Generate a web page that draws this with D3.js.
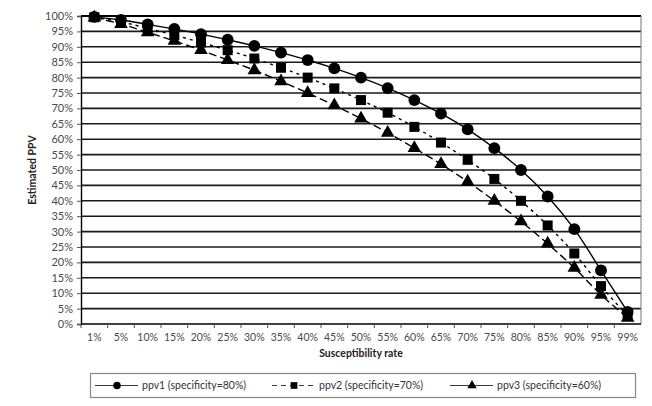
<!DOCTYPE html>
<html>
<head>
<meta charset="utf-8">
<script src="https://cdn.jsdelivr.net/npm/d3@7"></script>
<style>
  body { margin: 0; background: #fff; }
  text { font-family: Lato, "Open Sans", sans-serif; }
</style>
</head>
<body>
<svg id="chart"></svg>
<script>
// data
var categories = ["1%", "5%", "10%", "15%", "20%", "25%", "30%", "35%", "40%", "45%", "50%",
  "55%", "60%", "65%", "70%", "75%", "80%", "85%", "90%", "95%", "99%"]
var ppv1 = [99.7, 98.7, 97.3, 95.8, 94.1, 92.3, 90.3, 88.1, 85.7, 83.0, 80.0, 76.6, 72.7, 68.3, 63.2, 57.1, 50.0, 41.4, 30.8, 17.4, 3.9]
var ppv2 = [99.6, 98.1, 96.0, 93.8, 91.4, 88.9, 86.2, 83.2, 80.0, 76.5, 72.7, 68.6, 64.0, 58.9, 53.3, 47.1, 40.0, 32.0, 22.9, 12.3, 2.6]
var ppv3 = [99.5, 97.4, 94.7, 91.9, 88.9, 85.7, 82.4, 78.8, 75.0, 71.0, 66.7, 62.1, 57.1, 51.9, 46.2, 40.0, 33.3, 26.1, 18.2, 9.5, 2.0]
var yTicks = [0, 5, 10, 15, 20, 25, 30, 35, 40, 45, 50, 55, 60, 65, 70, 75, 80, 85, 90, 95, 100]
var seriesNames = ["ppv1 (specificity=80%)", "ppv2 (specificity=70%)", "ppv3 (specificity=60%)"]

var series = [
  {name: seriesNames[0], values: ppv1, symbol: d3.symbolCircle, size: 110, dash: null},
  {name: seriesNames[1], values: ppv2, symbol: d3.symbolSquare, size: 100, dash: "3,4"},
  {name: seriesNames[2], values: ppv3, symbol: d3.symbolTriangle, size: 80, dash: "8,4"}
]

// dimensions
var width = 652, height = 406
var plot = {left: 81, right: 641, top: 16, bottom: 324}

var svg = d3.select("#chart")
  .attr("width", width)
  .attr("height", height)

// scales
var x = d3.scaleBand()
  .domain(categories)
  .range([plot.left, plot.right])
  .padding(0)

var y = d3.scaleLinear()
  .domain([0, 100])
  .range([plot.bottom, plot.top])

// gridlines
svg.append("g")
  .selectAll("line")
  .data(yTicks.filter(function (d) { return d > 0; }))
  .enter()
  .append("line")
  .attr("x1", plot.left)
  .attr("x2", plot.right)
  .attr("y1", function (d) { return y(d); })
  .attr("y2", function (d) { return y(d); })
  .attr("stroke", function (d) { return d == 100 ? "#000" : "#1a1a1a"; })
  .attr("stroke-width", function (d) { return d == 100 ? 2.2 : 1.6; })

// right border
svg.append("line")
  .attr("x1", plot.right).attr("x2", plot.right)
  .attr("y1", plot.top).attr("y2", plot.bottom)
  .attr("stroke", "#777")
  .attr("stroke-width", 1)

// y axis
var yAxis = svg.append("g")
  .attr("transform", "translate(" + plot.left + ",0)")
  .call(d3.axisLeft(y)
    .tickValues(yTicks)
    .tickSize(4)
    .tickPadding(4)
    .tickFormat(function (d) { return d + "%"; }))
yAxis.select(".domain").attr("stroke", "#000").attr("stroke-width", 1.4)
yAxis.selectAll(".tick line").attr("stroke", "#555")
yAxis.selectAll("text")
  .attr("fill", "#4a4a4a")
  .style("font-size", "11px")
  .style("font-family", "Lato, sans-serif")

// x axis, ticks between categories
var xAxis = svg.append("g")
  .attr("transform", "translate(0," + plot.bottom + ")")
xAxis.append("line")
  .attr("x1", plot.left).attr("x2", plot.right)
  .attr("stroke", "#000")
  .attr("stroke-width", 1.4)
xAxis.selectAll(".xtick")
  .data(categories)
  .enter()
  .append("line")
  .attr("class", "xtick")
  .attr("x1", function (d) { return x(d); })
  .attr("x2", function (d) { return x(d); })
  .attr("y1", 0).attr("y2", 4)
  .attr("stroke", "#555")
xAxis.selectAll(".xlabel")
  .data(categories)
  .enter()
  .append("text")
  .attr("class", "xlabel")
  .attr("x", function (d) { return x(d) + x.bandwidth() / 2; })
  .attr("y", 17)
  .attr("text-anchor", "middle")
  .attr("fill", "#4a4a4a")
  .style("font-size", "10.5px")
  .text(function (d) { return d; })

// axis titles
svg.append("text")
  .attr("x", (plot.left + plot.right) / 2)
  .attr("y", 357)
  .attr("text-anchor", "middle")
  .style("font-size", "10.5px")
  .style("font-weight", "bold")
  .attr("fill", "#222")
  .text("Susceptibility rate")

svg.append("text")
  .attr("transform", "translate(36," + (plot.top + plot.bottom) / 2 + ") rotate(-90)")
  .attr("text-anchor", "middle")
  .style("font-size", "10.5px")
  .style("font-weight", "bold")
  .attr("fill", "#222")
  .text("Estimated PPV")

// lines + markers
var line = d3.line()
  .x(function (d, i) { return x(categories[i]) + x.bandwidth() / 2; })
  .y(function (d) { return y(d); })
  .curve(d3.curveCatmullRom.alpha(0.5))

series.forEach(function (s) {
  svg.append("path")
    .datum(s.values)
    .attr("d", line)
    .attr("fill", "none")
    .attr("stroke", "#000")
    .attr("stroke-width", 1.4)
    .attr("stroke-dasharray", s.dash)

  svg.append("g")
    .selectAll("path")
    .data(s.values)
    .enter()
    .append("path")
    .attr("d", d3.symbol().type(s.symbol).size(s.size))
    .attr("transform", function (d, i) {
      return "translate(" + (x(categories[i]) + x.bandwidth() / 2) + "," + y(d) + ")";
    })
    .attr("fill", "#000")
})

// legend
var legend = svg.append("g")
legend.append("rect")
  .attr("x", 90.5).attr("y", 373.5)
  .attr("width", 545).attr("height", 24)
  .attr("fill", "#fff")
  .attr("stroke", "#888")
  .attr("stroke-width", 1.2)

var legendX = [117, 294, 472]
series.forEach(function (s, i) {
  var cx = legendX[i], cy = 385.5
  legend.append("line")
    .attr("x1", cx - 22).attr("x2", cx + 21)
    .attr("y1", cy).attr("y2", cy)
    .attr("stroke", "#222")
    .attr("stroke-width", 0.9)
    .attr("stroke-dasharray", i == 1 ? "5,4" : null)
  legend.append("path")
    .attr("d", d3.symbol().type(s.symbol).size(i == 2 ? 38 : 45))
    .attr("transform", "translate(" + cx + "," + cy + ")")
    .attr("fill", "#000")
  legend.append("text")
    .attr("x", cx + 25)
    .attr("y", cy + 3.5)
    .attr("fill", "#333")
    .style("font-size", "10.5px")
    .text(s.name)
})
</script>
</body>
</html>
